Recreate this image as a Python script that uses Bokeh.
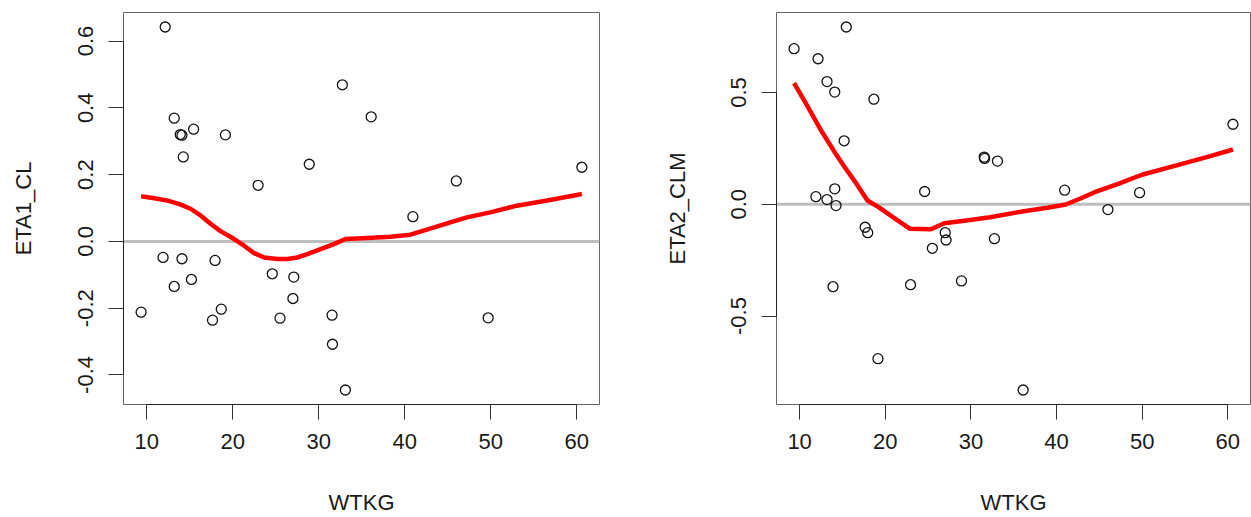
from bokeh.plotting import figure
from bokeh.layouts import row
from bokeh.models import Range1d, FixedTicker, Span
from bokeh.embed import file_html
from bokeh.resources import INLINE

# ---- data ----
WTKG = [9.35, 11.9, 12.15, 13.2, 13.2, 13.9, 14.1, 14.1, 14.25, 15.2, 15.45,
        17.65, 17.95, 18.67, 19.15, 22.95, 24.6, 25.5, 27.0, 27.1, 28.9, 31.55,
        31.6, 32.75, 33.1, 36.1, 40.95, 46.0, 49.7, 60.6]
ETA1_CL = [-0.212, -0.048, 0.642, 0.369, -0.135, 0.320, 0.318, -0.052, 0.253,
           -0.114, 0.336, -0.236, -0.057, -0.203, 0.319, 0.168, -0.097, -0.230,
           -0.171, -0.107, 0.231, -0.221, -0.308, 0.469, -0.445, 0.373, 0.074,
           0.181, -0.229, 0.222]
ETA2_CLM = [0.696, 0.034, 0.651, 0.549, 0.021, -0.369, 0.502, 0.069, -0.006,
            0.284, 0.793, -0.103, -0.127, 0.470, -0.691, -0.360, 0.057, -0.197,
            -0.127, -0.160, -0.343, 0.211, 0.205, -0.154, 0.193, -0.831, 0.063,
            -0.024, 0.052, 0.358]

# smooth (loess-like) curves
smooth1_x = [9.35, 10.88, 12.44, 13.98, 15.14, 16.3, 17.46, 18.62, 20.16, 21.32,
             22.48, 23.64, 25.2, 26.36, 27.52, 28.68, 30.22, 31.76, 33.12, 35.64,
             38.34, 40.66, 42.2, 45.3, 47.24, 49.94, 53.04, 56.9, 60.6]
smooth1_y = [0.135, 0.129, 0.122, 0.110, 0.097, 0.077, 0.052, 0.030, 0.007, -0.013,
             -0.035, -0.048, -0.053, -0.053, -0.048, -0.038, -0.023, -0.008, 0.007,
             0.010, 0.014, 0.020, 0.032, 0.057, 0.072, 0.087, 0.107, 0.124, 0.142]
smooth2_x = [9.35, 10.93, 12.51, 14.09, 15.27, 16.65, 17.92, 19.22, 21.19, 22.89,
             25.32, 26.9, 29.46, 32.22, 36.17, 38.93, 41.09, 42.86, 44.45, 47.2,
             49.97, 53.91, 57.85, 60.6]
smooth2_y = [0.542, 0.438, 0.330, 0.233, 0.166, 0.091, 0.017, -0.013, -0.065, -0.110,
             -0.112, -0.085, -0.073, -0.058, -0.031, -0.016, -0.001, 0.027, 0.054,
             0.091, 0.132, 0.173, 0.214, 0.245]

x_ticks = [10, 20, 30, 40, 50, 60]
x_tick_labels = ["10", "20", "30", "40", "50", "60"]
y1_ticks = [-0.4, -0.2, 0.0, 0.2, 0.4, 0.6]
y1_tick_labels = ["-0.4", "-0.2", "0.0", "0.2", "0.4", "0.6"]
y2_ticks = [-0.5, 0.0, 0.5]
y2_tick_labels = ["-0.5", "0.0", "0.5"]

FONT = "Liberation Sans"
FSIZE = "22px"
TXT = "#1a1a1a"


def padded(vals):
    lo, hi = min(vals), max(vals)
    d = (hi - lo) * 0.04
    return Range1d(lo - d, hi + d)


def style_axis(ax, ticks, labels, label, tick_standoff, label_standoff):
    ax.ticker = FixedTicker(ticks=ticks)
    ax.major_label_overrides = {t: l for t, l in zip(ticks, labels)}
    ax.bounds = (min(ticks), max(ticks))
    ax.axis_label = label
    ax.axis_label_text_font = FONT
    ax.axis_label_text_font_size = FSIZE
    ax.axis_label_text_font_style = "normal"
    ax.axis_label_text_color = TXT
    ax.axis_label_standoff = label_standoff
    ax.major_label_text_font = FONT
    ax.major_label_text_font_size = FSIZE
    ax.major_label_text_color = TXT
    ax.major_label_standoff = tick_standoff
    ax.major_tick_out = 15
    ax.major_tick_in = 0
    ax.minor_tick_out = 0
    ax.minor_tick_in = 0
    ax.major_tick_line_color = "#333333"
    ax.axis_line_color = "#222222"
    ax.axis_line_width = 1


def panel(eta, sx, sy, yt, ytl, ylabel, width, mbl, mbr, ylab_standoff):
    p = figure(width=width, height=517, output_backend="svg", toolbar_location=None,
               x_range=padded(WTKG), y_range=padded(eta),
               min_border_left=mbl, min_border_right=mbr,
               min_border_top=12, min_border_bottom=113)
    p.xgrid.visible = False
    p.ygrid.visible = False
    p.outline_line_color = "#666666"
    p.outline_line_width = 1
    p.background_fill_color = "white"
    p.border_fill_color = "white"
    style_axis(p.xaxis[0], x_ticks, x_tick_labels, "WTKG", 14, 38)
    style_axis(p.yaxis[0], yt, ytl, ylabel, 15, ylab_standoff)
    p.yaxis[0].major_label_orientation = "vertical"

    p.add_layout(Span(location=0, dimension="width", line_color="#bebebe",
                      line_width=3, level="underlay"))
    p.scatter(WTKG, eta, marker="circle", size=10, fill_color=None,
              line_color="#111111", line_width=1.3)
    p.line(sx, sy, line_color="#ff0000", line_width=4.5, line_join="round")
    return p


p1 = panel(ETA1_CL, smooth1_x, smooth1_y, y1_ticks, y1_tick_labels, "ETA1_CL",
           638, 123, 39, 40)
p2 = panel(ETA2_CLM, smooth2_x, smooth2_y, y2_ticks, y2_tick_labels, "ETA2_CLM",
           613, 138, 1, 39)

layout = row(p1, p2)
open("out.html", "w").write(file_html(layout, INLINE))
